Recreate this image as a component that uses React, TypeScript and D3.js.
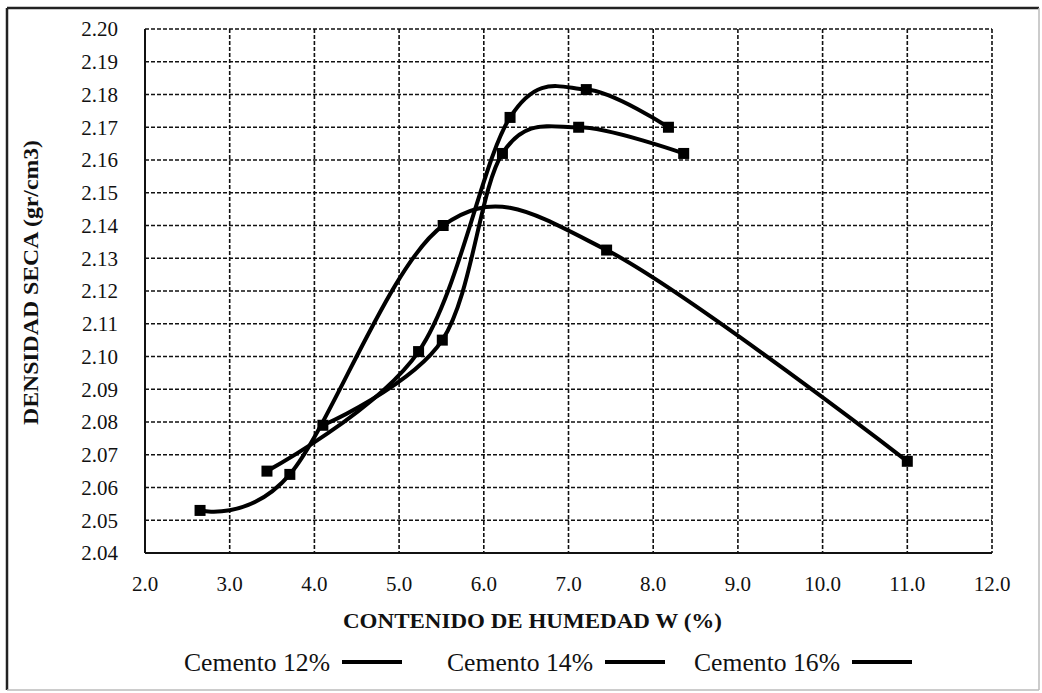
import React from "react";
import * as d3 from "d3";

const xTicks = [2, 3, 4, 5, 6, 7, 8, 9, 10, 11, 12];
const yTicks = [2.04, 2.05, 2.06, 2.07, 2.08, 2.09, 2.1, 2.11, 2.12, 2.13, 2.14, 2.15, 2.16, 2.17, 2.18, 2.19, 2.2];

const seriesNames = ["Cemento 12%", "Cemento 14%", "Cemento 16%"];
const x12 = [2.65, 3.71, 5.52, 7.45, 11.0];
const y12 = [2.053, 2.064, 2.14, 2.1325, 2.068];
const x14 = [4.1, 5.51, 6.22, 7.12, 8.36];
const y14 = [2.079, 2.105, 2.162, 2.17, 2.162];
const x16 = [3.44, 5.23, 6.31, 7.21, 8.18];
const y16 = [2.065, 2.1015, 2.173, 2.1815, 2.17];

const xTitle = "CONTENIDO DE HUMEDAD W (%)";
const yTitle = "DENSIDAD SECA (gr/cm3)";

const W = 1042;
const H = 693;
const FONT = "'Liberation Serif', 'Times New Roman', Times, serif";

export default function App() {
  const x = d3.scaleLinear().domain([2, 12]).range([145, 992]);
  const y = d3.scaleLinear().domain([2.04, 2.2]).range([553, 29]);

  const series = [
    { xs: x12, ys: y12 },
    { xs: x14, ys: y14 },
    { xs: x16, ys: y16 },
  ];

  const line = d3
    .line<[number, number]>()
    .x((d) => x(d[0]))
    .y((d) => y(d[1]))
    .curve(d3.curveCardinal.tension(0));

  const legendStarts = [184, 447, 694];

  return (
    <svg
      width={W}
      height={H}
      style={{ position: "absolute", left: 0, top: 0, background: "#fff" }}
      fontFamily={FONT}
    >
      <rect x={0} y={0} width={W} height={H} fill="#fff" />
      {/* outer frame */}
      <line x1={7} y1={8} x2={1039} y2={8} stroke="#222" strokeWidth={2.5} />
      <line x1={7} y1={8} x2={7} y2={690} stroke="#222" strokeWidth={2.5} />
      <line x1={1039} y1={8} x2={1039} y2={690} stroke="#bbb" strokeWidth={1.5} />
      <line x1={7} y1={690} x2={1039} y2={690} stroke="#bbb" strokeWidth={1.5} />

      {/* grid */}
      {xTicks.slice(1).map((t) => (
        <line
          key={"gx" + t}
          x1={x(t)}
          x2={x(t)}
          y1={y(2.2)}
          y2={y(2.04)}
          stroke="#111"
          strokeWidth={1.6}
          strokeDasharray="4,2"
        />
      ))}
      {yTicks.slice(1).map((t) => (
        <line
          key={"gy" + t}
          x1={x(2)}
          x2={x(12)}
          y1={y(t)}
          y2={y(t)}
          stroke="#111"
          strokeWidth={1.6}
          strokeDasharray="4,2"
        />
      ))}
      {/* axes */}
      <line x1={x(2)} x2={x(2)} y1={y(2.2)} y2={y(2.04)} stroke="#111" strokeWidth={2} />
      <line x1={x(2)} x2={x(12)} y1={y(2.04)} y2={y(2.04)} stroke="#111" strokeWidth={2} />

      {/* tick labels */}
      {yTicks.map((t) => (
        <text
          key={"ly" + t}
          x={118}
          y={y(t)}
          dy="0.35em"
          textAnchor="end"
          fontSize={21}
          fill="#111"
        >
          {d3.format(".2f")(t)}
        </text>
      ))}
      {xTicks.map((t) => (
        <text
          key={"lx" + t}
          x={x(t)}
          y={591}
          textAnchor="middle"
          fontSize={21}
          fill="#111"
        >
          {d3.format(".1f")(t)}
        </text>
      ))}

      {/* titles */}
      <text
        x={343}
        y={628}
        fontSize={22}
        fontWeight="bold"
        fill="#111"
        textLength={379}
        lengthAdjust="spacingAndGlyphs"
      >
        {xTitle}
      </text>
      <text
        transform={`translate(38, 425) rotate(-90)`}
        fontSize={22}
        fontWeight="bold"
        fill="#111"
        textLength={285}
        lengthAdjust="spacingAndGlyphs"
      >
        {yTitle}
      </text>

      {/* series */}
      {series.map((s, i) => {
        const pts: [number, number][] = s.xs.map((v, j) => [v, s.ys[j]]);
        return (
          <g key={"s" + i}>
            <path d={line(pts) || ""} fill="none" stroke="#000" strokeWidth={4} />
            {pts.map((p, j) => (
              <rect
                key={j}
                x={x(p[0]) - 5.5}
                y={y(p[1]) - 5.5}
                width={11}
                height={11}
                fill="#000"
              />
            ))}
          </g>
        );
      })}

      {/* legend */}
      {seriesNames.map((n, i) => (
        <g key={"lg" + i}>
          <text
            x={legendStarts[i]}
            y={671}
            fontSize={25}
            fill="#111"
            textLength={146}
            lengthAdjust="spacingAndGlyphs"
          >
            {n}
          </text>
          <line
            x1={legendStarts[i] + 158}
            x2={legendStarts[i] + 218}
            y1={662}
            y2={662}
            stroke="#000"
            strokeWidth={4}
          />
        </g>
      ))}
    </svg>
  );
}
